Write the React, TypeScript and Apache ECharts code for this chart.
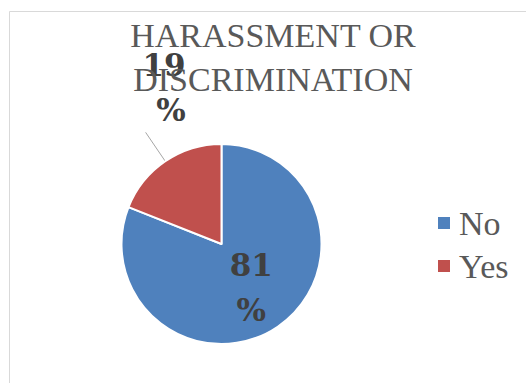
import React, { useEffect, useRef } from "react";
import * as echarts from "echarts";

const titleLines = ["HARASSMENT OR", "DISCRIMINATION"];
const categories = ["No", "Yes"];
const values = [81, 19];
const colors = ["#4F81BD", "#C0504D"];

export default function App() {
  const ref = useRef<HTMLDivElement>(null);
  useEffect(() => {
    if (!ref.current) return;
    const chart = echarts.init(ref.current, null, { renderer: "svg" });
    chart.setOption({
      animation: false,
      backgroundColor: "#ffffff",
      graphic: [
        {
          type: "rect",
          shape: { x: 9.5, y: 11.5, width: 700, height: 600 },
          style: { fill: "none", stroke: "#D9D9D9", lineWidth: 1 },
          silent: true,
        },
      ],
      title: {
        text: titleLines.join("\n"),
        left: 268,
        top: 8,
        textAlign: "center",
        textStyle: {
          fontFamily: "Liberation Serif",
          fontSize: 34,
          fontWeight: "normal",
          color: "#595959",
          lineHeight: 44,
        },
      },
      legend: {
        orient: "vertical",
        left: 431,
        top: 201,
        itemWidth: 14,
        itemHeight: 14,
        itemGap: 9,
        icon: "rect",
        data: categories,
        textStyle: {
          fontFamily: "Liberation Serif",
          fontSize: 34,
          color: "#595959",
          lineHeight: 34,
          padding: [0, 0, 0, 3],
        },
      },
      series: [
        {
          type: "pie",
          center: [221.5, 244],
          radius: 100,
          startAngle: 90,
          clockwise: true,
          itemStyle: { borderColor: "#ffffff", borderWidth: 2 },
          label: {
            fontFamily: "DejaVu Serif",
            fontWeight: "bold",
            fontSize: 31,
            lineHeight: 45,
            color: "#404040",
          },
          data: categories.map((c, i) => {
            const base: any = {
              name: c,
              value: values[i],
              itemStyle: { color: colors[i] },
            };
            if (i === 0) {
              base.label = {
                position: "inside",
                formatter: (p: any) => `${p.value}\n%`,
              };
              base.labelLine = { show: false };
            } else {
              base.label = {
                position: "outside",
                distanceToLabelLine: -40,
                formatter: (p: any) => `${p.value}\n%\n\n`,
              };
              base.labelLine = {
                show: true,
                length: 35,
                length2: 0,
                lineStyle: { color: "#A6A6A6", width: 1 },
              };
            }
            return base;
          }),
        },
      ],
    });
    return () => chart.dispose();
  }, []);
  return (
    <div
      ref={ref}
      style={{ position: "absolute", left: 0, top: 0, width: 526, height: 383 }}
    />
  );
}
